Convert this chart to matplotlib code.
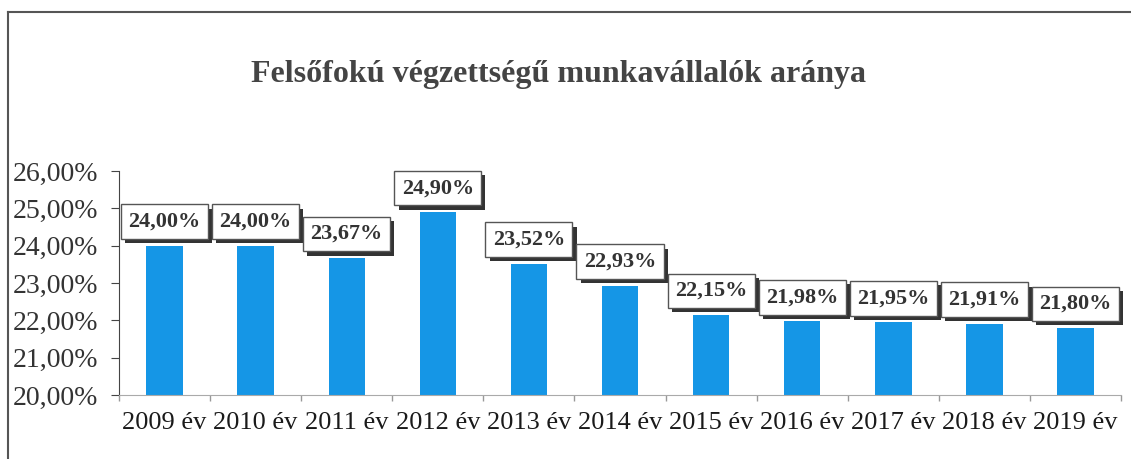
import matplotlib
matplotlib.use("Agg")
import matplotlib.pyplot as plt
from matplotlib.lines import Line2D
from matplotlib import patheffects as pe
from matplotlib.ticker import FixedLocator, FuncFormatter

years = ["2009 év", "2010 év", "2011 év", "2012 év", "2013 év", "2014 év",
         "2015 év", "2016 év", "2017 év", "2018 év", "2019 év"]
values = [24.00, 24.00, 23.67, 24.90, 23.52, 22.93, 22.15, 21.98, 21.95, 21.91, 21.80]
y_ticks = [20, 21, 22, 23, 24, 25, 26]
title = "Felsőfokú végzettségű munkavállalók aránya"

plt.rcParams['font.family'] = ['Liberation Serif', 'DejaVu Serif']

fig = plt.figure(figsize=(11.31, 4.59), dpi=100)
ax = fig.add_axes([0.1052, 0.1394, 0.9912 - 0.1052, 0.6275 - 0.1394])

x = list(range(len(years)))
ax.bar(x, values, width=0.4, color='#1596e6', zorder=2)

ax.set_ylim(20, 26)
ax.set_xlim(-0.5, len(years) - 0.5)
ax.set_yticks(y_ticks)
ax.yaxis.set_major_formatter(FuncFormatter(lambda v, p: f"{v:.2f}".replace('.', ',') + "%"))
ax.set_xticks(x)
ax.set_xticklabels(years)
ax.xaxis.set_minor_locator(FixedLocator([i + 0.5 for i in range(-1, len(years))]))

ax.tick_params(axis='x', which='major', length=0, pad=12, labelsize=19, labelcolor='#1a1a1a')
ax.tick_params(axis='x', which='minor', length=4, color='#999999', width=1)
ax.tick_params(axis='y', length=6, color='#444444', pad=9, labelsize=20, labelcolor='#333333')

for s in ['top', 'right']:
    ax.spines[s].set_visible(False)
ax.spines['left'].set_color('#444444')
ax.spines['bottom'].set_color('#aaaaaa')

for xi, v in zip(x, values):
    t = ax.annotate(f"{v:.2f}".replace('.', ',') + "%", xy=(xi, v), xytext=(0, 10),
                    textcoords='offset points', ha='center', va='bottom',
                    fontsize=16, fontweight='bold', color='#333333', zorder=5,
                    bbox=dict(boxstyle='square,pad=0.33', fc='white', ec='#555555', lw=1))
    t.get_bbox_patch().set_path_effects([
        pe.SimplePatchShadow(offset=(3, -3), shadow_rgbFace='#333333', alpha=1.0),
        pe.Normal()])

fig.text(0.4935, 0.838, title, ha='center', va='center', fontsize=23,
         fontweight='bold', color='#444444')

# outer frame lines (top and left)
fig.add_artist(Line2D([8 / 1131, 1.0], [1 - 12 / 459, 1 - 12 / 459],
                      transform=fig.transFigure, color='#555555', lw=1.5))
fig.add_artist(Line2D([8 / 1131, 8 / 1131], [0, 1 - 12 / 459],
                      transform=fig.transFigure, color='#555555', lw=1.5))

fig.savefig("out.png", dpi=100)
